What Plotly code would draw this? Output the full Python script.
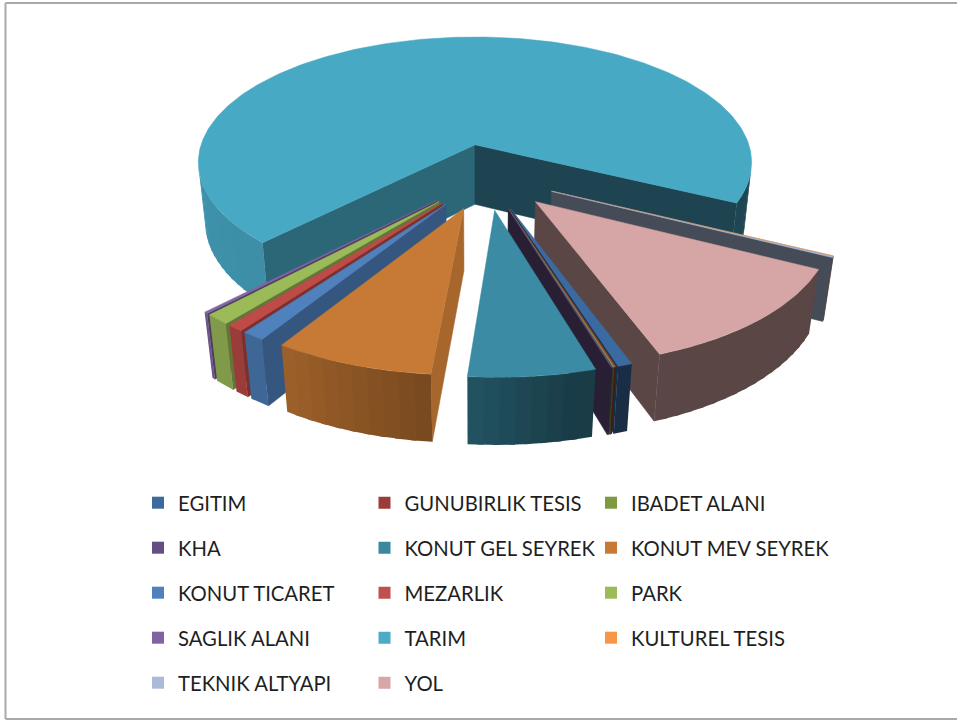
import math
import plotly.graph_objects as go

# ---- data (percent shares) ----
categories = ["EGITIM", "GUNUBIRLIK TESIS", "IBADET ALANI", "KHA", "KONUT GEL SEYREK",
              "KONUT MEV SEYREK", "KONUT TICARET", "MEZARLIK", "PARK", "SAGLIK ALANI",
              "TARIM", "KULTUREL TESIS", "TEKNIK ALTYAPI", "YOL"]
values = [0.69, 0.07, 0.07, 0.06, 6.0, 7.6, 1.1, 0.78, 1.2, 0.19, 70.04, 0.04, 0.13, 12.03]
top_colors = ["#3B6AA0", "#9C3D3A", "#7F9A40", "#5E4A7E", "#3A8BA3", "#C77A35", "#4F81BD",
              "#BE4B48", "#9BBB59", "#8064A2", "#48A9C5", "#F79646", "#AABAD7", "#D5A6A5"]
swatch_colors = ["#3C6A9C", "#9C3C3A", "#7F993F", "#664D84", "#3A889E", "#C87A35", "#4F81BD",
                 "#C0504D", "#9BBB59", "#8064A2", "#4BACC6", "#F79646", "#AABAD7", "#D9A6A6"]

# ---- pie style ----
START_ANGLE = 160.3   # first slice, clockwise from north
EXPLODE = 0.25
# ---- view ----
CX, CY, SX, SY, DEPTH, PERSP, Z_PERSP = 475, 145, 274, 123, 61, 0.14, 0.025
OFF_X, OFF_Y = 0.042, -0.245
OUTER_SHADE = [(60, .42), (158, .42), (168, .44), (185, .6), (211, .78), (225, .84), (270, .88), (320, .9)]
RADIAL_SHADE = [(30, .9), (94, .84), (117, .7), (131, .62), (196, .4), (252, .42), (320, .5)]


def project(x, y, bottom=False):
    xp, yp = x + OFF_X, y + OFF_Y
    w = 1 + PERSP * yp + (Z_PERSP if bottom else 0)
    return (CX + SX * xp / w, CY + (-SY * yp + (DEPTH if bottom else 0)) / w)


def polar(theta, r=1.0):
    t = math.radians(theta)
    return r * math.sin(t), r * math.cos(t)


def shade(table, angle):
    angle %= 360
    if angle <= table[0][0]:
        return table[0][1]
    for (a0, f0), (a1, f1) in zip(table, table[1:]):
        if angle <= a1:
            return f0 + (f1 - f0) * (angle - a0) / (a1 - a0)
    return table[-1][1]


def darken(hex_color, f):
    r, g, b = (int(hex_color[i:i + 2], 16) for i in (1, 3, 5))
    return f"rgb({r * f:.0f},{g * f:.0f},{b * f:.0f})"


def facing(pts):
    s = 0.0
    for (x0, y0), (x1, y1) in zip(pts, pts[1:] + pts[:1]):
        s += x0 * (-y1) - x1 * (-y0)
    return s > 0


fig = go.Figure()


def face(pts, color, cull=True, line=0.5):
    if cull and not facing(pts):
        return
    xs = [p[0] for p in pts] + [pts[0][0]]
    ys = [p[1] for p in pts] + [pts[0][1]]
    fig.add_trace(go.Scatter(x=xs, y=ys, mode="lines", fill="toself", fillcolor=color,
                             line=dict(color=color, width=line), showlegend=False,
                             hoverinfo="skip"))


# slice angle extents from the values
total = sum(values)
extents = []
a = START_ANGLE
for v in values:
    b = a + v / total * 360
    extents.append((a, b))
    a = b


def draw_slice(i):
    a0, b0 = extents[i]
    col = top_colors[i]
    ex, ey = polar((a0 + b0) / 2, EXPLODE)

    def rim(theta, bottom=False):
        x, y = polar(theta)
        return project(ex + x, ey + y, bottom)

    apex_t = project(ex, ey)
    apex_b = project(ex, ey, True)
    # radial walls
    face([apex_t, rim(a0), rim(a0, True), apex_b], darken(col, shade(RADIAL_SHADE, a0 - 90)))
    face([rim(b0), apex_t, apex_b, rim(b0, True)], darken(col, shade(RADIAL_SHADE, b0 + 90)))
    # outer wall: shaded bands, each running under the next so that no seam shows
    n = max(1, int((b0 - a0) / 2.5))
    for k in range(n):
        s0 = a0 + (b0 - a0) * k / n
        s1 = a0 + (b0 - a0) * (k + 1) / n
        s2 = min(b0, s1 + 1.0)
        if facing([rim(s0), rim(s1), rim(s1, True), rim(s0, True)]):
            pts = [rim(s0), rim(s2), rim(s2, True), rim(s0, True)]
            face(pts, darken(col, shade(OUTER_SHADE, (s0 + s1) / 2)), cull=False, line=0)
    # top
    m = max(2, int(b0 - a0))
    top = [apex_t] + [rim(a0 + (b0 - a0) * k / m) for k in range(m + 1)]
    face(top, col, cull=False)


# back to front
for i in [10, 11, 12, 13, 0, 1, 2, 3, 9, 8, 7, 6, 5, 4]:
    draw_slice(i)

# legend: one small legend per entry, laid out in three columns
ROW_Y = [503, 548, 593, 638, 683]
COL_X = [138, 364.5, 591]
layout_legends = {}
for i, name in enumerate(categories):
    key = "legend" if i == 0 else f"legend{i + 1}"
    fig.add_trace(go.Scatter(x=[None], y=[None], mode="markers", name=name,
                             marker=dict(symbol="square", size=12, color=swatch_colors[i]),
                             legend=key))
    layout_legends[key] = dict(x=COL_X[i % 3] / 957, xanchor="left",
                               y=1 - ROW_Y[i // 3] / 723, yanchor="middle",
                               bgcolor="rgba(0,0,0,0)",
                               font=dict(family="Lato", size=20.3, color="#1f1f1f"),
                               itemclick=False, itemdoubleclick=False)

fig.update_layout(
    width=957, height=723, margin=dict(l=0, r=0, t=0, b=0, autoexpand=False),
    paper_bgcolor="white", plot_bgcolor="white", showlegend=True,
    xaxis=dict(range=[0, 957], visible=False, fixedrange=True),
    yaxis=dict(range=[723, 0], visible=False, fixedrange=True),
    shapes=[
        dict(type="line", xref="paper", yref="paper", x0=5.5 / 957, x1=1, y0=1 - 3 / 723, y1=1 - 3 / 723,
             line=dict(color="#A9A9A9", width=2)),
        dict(type="line", xref="paper", yref="paper", x0=5.5 / 957, x1=5.5 / 957, y0=1 - 3 / 723, y1=1 - 719 / 723,
             line=dict(color="#A9A9A9", width=2)),
        dict(type="line", xref="paper", yref="paper", x0=5.5 / 957, x1=1, y0=1 - 719 / 723, y1=1 - 719 / 723,
             line=dict(color="#A9A9A9", width=2)),
    ],
    **layout_legends,
)
fig.write_html("out.html", config={"displayModeBar": False},
               post_script="document.body.style.margin='0';document.documentElement.style.overflow='hidden';")
